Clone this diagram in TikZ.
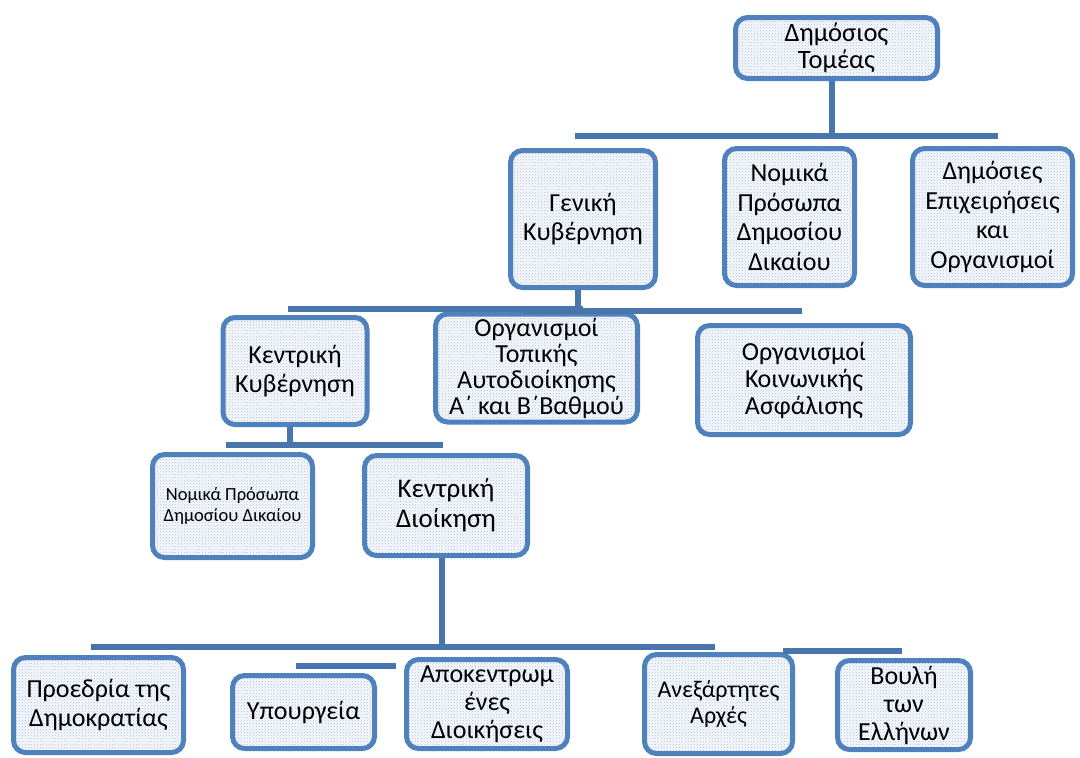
\documentclass[tikz,border=0pt]{standalone}
\usepackage{fontspec}
\setmainfont{Carlito}
\usetikzlibrary{patterns}
\definecolor{bord}{RGB}{79,129,189}
\definecolor{linkc}{RGB}{72,117,172}
\definecolor{boxfill}{RGB}{246,248,252}
\definecolor{dotc}{RGB}{175,192,218}
\begin{document}
\begin{tikzpicture}[x=1pt,y=-1pt,
  box/.style={draw=bord, line width=5pt, rounded corners=12pt,
    preaction={fill=boxfill}, pattern=crosshatch dots, pattern color=dotc,
    align=center, inner sep=0pt, text=black,
    font=\fontsize{26}{29}\selectfont},
  link/.style={draw=linkc, line width=6pt}]
\useasboundingbox (0,0) rectangle (1080,758);

% level 1
\node[box, minimum width=202pt, minimum height=61pt, font=\fontsize{26.5}{27}\selectfont] (top) at (836.5,48) {Δημόσιος\\Τομέας};
% level 2
\node[box, minimum width=145pt, minimum height=137pt] (gen) at (583,219) {Γενική\\Κυβέρνηση};
\node[box, minimum width=130pt, minimum height=137pt, font=\fontsize{26}{29.5}\selectfont] (npdd) at (789.5,217) {Νομικά\\Πρόσωπα\\Δημοσίου\\Δικαίου};
\node[box, minimum width=160pt, minimum height=137pt, font=\fontsize{26}{29.5}\selectfont] (dep) at (992.5,217) {Δημόσιες\\Επιχειρήσεις\\και\\Οργανισμοί};
% level 3
\node[box, minimum width=144pt, minimum height=107pt] (kk) at (295,371) {Κεντρική\\Κυβέρνηση};
\node[box, minimum width=202pt, minimum height=108pt, font=\fontsize{26}{26}\selectfont] (ota) at (536.5,368) {Οργανισμοί\\Τοπικής\\Αυτοδιοίκησης\\Α΄ και Β΄Βαθμού};
\node[box, minimum width=213pt, minimum height=109pt, font=\fontsize{26}{27}\selectfont] (oka) at (804,380) {Οργανισμοί\\Κοινωνικής\\Ασφάλισης};
% level 4
\node[box, minimum width=160pt, minimum height=103pt, font=\fontsize{18.5}{21.5}\selectfont] (npdd2) at (232.5,506) {Νομικά Πρόσωπα\\Δημοσίου Δικαίου};
\node[box, minimum width=163pt, minimum height=100pt, font=\fontsize{27}{30}\selectfont] (kd) at (446,505.5) {Κεντρική\\Διοίκηση};
% level 5
\node[box, minimum width=170pt, minimum height=95pt] (pd) at (98.5,705) {Προεδρία της\\Δημοκρατίας};
\node[box, minimum width=142pt, minimum height=73pt] (yp) at (303.5,712) {Υπουργεία};
\node[box, minimum width=161pt, minimum height=89pt, font=\fontsize{26}{28}\selectfont] (ad) at (487,704) {Αποκεντρωμ\\ένες\\Διοικήσεις};
\node[box, minimum width=148pt, minimum height=99pt, font=\fontsize{24}{26}\selectfont] (aa) at (718.5,704) {Ανεξάρτητες\\Αρχές};
\node[box, minimum width=133pt, minimum height=89pt, font=\fontsize{26}{28}\selectfont] (bv) at (904,705) {Βουλή\\των\\Ελλήνων};

% connectors
\coordinate (b1l) at (575,136);
\coordinate (b1r) at (998,136);
\draw[link] ([xshift=-4.5pt]top.south) -- ([xshift=-4.5pt]top.south |- b1l);
\draw[link] (b1l) -- (b1r);

\coordinate (b2l) at (288,309);
\coordinate (b2r) at (802,311);
\draw[link] ([xshift=-5pt]gen.south) -- ([xshift=-5pt]gen.south |- b2l);
\draw[link] (b2l) -- (b2l -| gen.south);
\draw[link] (b2l -| gen.south) ++(-60,2) -- (b2r);

\coordinate (b3l) at (226,445);
\coordinate (b3r) at (443,445);
\draw[link] ([xshift=-5pt]kk.south) -- ([xshift=-5pt]kk.south |- b3l);
\draw[link] (b3l) -- (b3r);

\coordinate (b4l) at (91,647);
\coordinate (b4r) at (715,647);
\coordinate (b5l) at (783,651);
\coordinate (b5r) at (902,651);
\coordinate (b6l) at (296,666);
\coordinate (b6r) at (396,666);
\draw[link] ([xshift=-4pt]kd.south) -- ([xshift=-4pt]kd.south |- b4l);
\draw[link] (b4l) -- (b4r);
\draw[link] (b5l) -- (b5r);
\draw[link] (b6l) -- (b6r);
\end{tikzpicture}
\end{document}
